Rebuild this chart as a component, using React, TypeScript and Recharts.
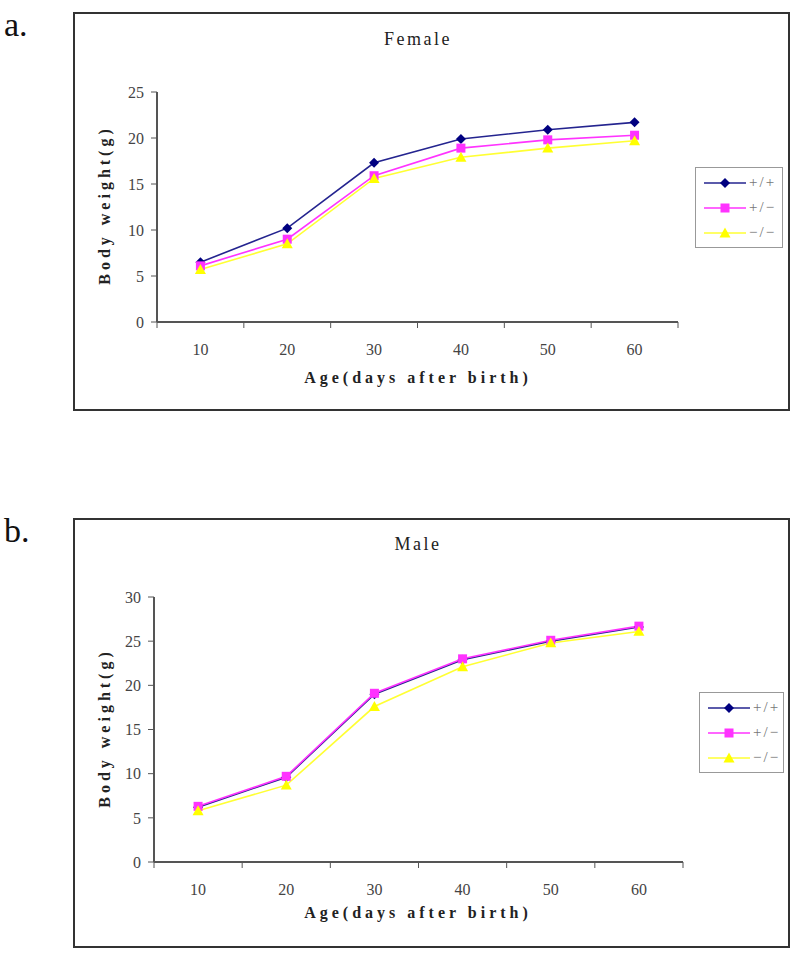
import React from "react";
import { LineChart, Line, XAxis, YAxis } from "recharts";

const ages = [10, 20, 30, 40, 50, 60];
const genotypes = ["+/+", "+/\u2212", "\u2212/\u2212"];

const femaleWT = [6.5, 10.2, 17.3, 19.9, 20.9, 21.7];
const femaleHet = [6.1, 9.0, 15.9, 18.9, 19.8, 20.3];
const femaleKO = [5.7, 8.5, 15.6, 17.9, 18.9, 19.7];

const maleWT = [6.2, 9.6, 19.0, 22.9, 25.0, 26.6];
const maleHet = [6.3, 9.7, 19.1, 23.0, 25.1, 26.7];
const maleKO = [5.8, 8.7, 17.6, 22.1, 24.8, 26.1];

const femaleTicks = [0, 5, 10, 15, 20, 25];
const maleTicks = [0, 5, 10, 15, 20, 25, 30];
const boundaryTicks = [5, 15, 25, 35, 45, 55, 65];

const lineColors = ["#24248f", "#ff33ff", "#ffff33"];
const markColors = ["#000080", "#ff33ff", "#ffff00"];

const SERIF = "'Liberation Serif', 'DejaVu Serif', serif";

function Diamond({ cx, cy, fill }: any) {
  if (cx == null || cy == null) return null;
  const r = 5;
  return <polygon points={`${cx},${cy - r} ${cx + r},${cy} ${cx},${cy + r} ${cx - r},${cy}`} fill={fill} />;
}
function Square({ cx, cy, fill }: any) {
  if (cx == null || cy == null) return null;
  const r = 4.5;
  return <rect x={cx - r} y={cy - r} width={r * 2} height={r * 2} fill={fill} />;
}
function Triangle({ cx, cy, fill }: any) {
  if (cx == null || cy == null) return null;
  const r = 5.5;
  return <polygon points={`${cx},${cy - r} ${cx + r},${cy + r * 0.8} ${cx - r},${cy + r * 0.8}`} fill={fill} />;
}
const shapes = [Diamond, Square, Triangle];

function LegendBox({ left, top, width }: any) {
  return (
    <div
      style={{
        position: "absolute",
        left,
        top,
        width,
        boxSizing: "border-box",
        border: "1.5px solid #999",
        background: "#fff",
        padding: "2px 0 2px 7px",
        fontFamily: SERIF,
        fontSize: 15,
        color: "#777",
      }}
    >
      {genotypes.map((g, i) => {
        const Shape = shapes[i];
        return (
          <div key={g} style={{ display: "flex", alignItems: "center", height: 25 }}>
            <svg width={44} height={14}>
              <line x1={1} y1={7} x2={43} y2={7} stroke={lineColors[i]} strokeWidth={1.5} />
              <Shape cx={22} cy={7} fill={markColors[i]} />
            </svg>
            <span style={{ marginLeft: 2, letterSpacing: 2 }}>{g}</span>
          </div>
        );
      })}
    </div>
  );
}

// Excel style category axis: tick marks on the boundaries, labels in the middle
function AgeTick({ x, y, payload }: any) {
  const v = payload.value;
  if (ages.includes(v)) {
    return (
      <text x={x} y={y + 33} textAnchor="middle" fill="#444" fontSize={16} fontFamily={SERIF}>
        {v}
      </text>
    );
  }
  return <line x1={x} y1={y} x2={x} y2={y + 6} stroke="#555" strokeWidth={1} />;
}

function Panel(props: any) {
  const { letter, title, wt, het, ko, yTicks, chartTop, chartHeight, plot, frame, legendAt, titleY, xLabelY } = props;
  const data = ages.map((a, i) => ({ age: a, wt: wt[i], het: het[i], ko: ko[i] }));
  const yMax = yTicks[yTicks.length - 1];
  const yAxisW = 60;
  const xAxisH = 40;
  const margin = {
    top: plot.top - chartTop,
    left: plot.left - yAxisW,
    right: 800 - plot.right,
    bottom: chartTop + chartHeight - plot.bottom - xAxisH,
  };
  const xTicks = [...boundaryTicks, ...ages].sort((a, b) => a - b);
  const keys = ["wt", "het", "ko"];
  return (
    <>
      <div style={{ position: "absolute", left: 4, top: frame.top - 6, fontFamily: SERIF, fontSize: 34, color: "#111" }}>{letter}</div>
      <div
        style={{
          position: "absolute",
          left: frame.left,
          top: frame.top,
          width: frame.right - frame.left,
          height: frame.bottom - frame.top,
          border: "2px solid #333",
          boxSizing: "border-box",
        }}
      />
      <div style={{ position: "absolute", left: 0, top: chartTop }}>
        <LineChart width={800} height={chartHeight} data={data} margin={margin}>
          <XAxis
            xAxisId="b"
            dataKey="age"
            type="number"
            domain={[5, 65]}
            ticks={xTicks}
            interval={0}
            height={xAxisH}
            tickLine={false}
            tickSize={0}
            tickMargin={0}
            tick={<AgeTick />}
            axisLine={{ stroke: "#555", strokeWidth: 2 }}
          />
          <XAxis xAxisId="top" orientation="top" type="number" domain={[5, 65]} height={0} tick={false} tickLine={false} axisLine={{ stroke: "#555", strokeWidth: 2 }} />
          <YAxis
            yAxisId="l"
            domain={[0, yMax]}
            ticks={yTicks}
            interval={0}
            width={yAxisW}
            tickSize={6}
            tickMargin={7}
            stroke="#555"
            axisLine={{ stroke: "#555", strokeWidth: 2 }}
            tick={{ fill: "#444", fontSize: 16, fontFamily: SERIF }}
          />
          <YAxis yAxisId="r" orientation="right" domain={[0, yMax]} width={0} tick={false} tickLine={false} axisLine={{ stroke: "#555", strokeWidth: 2 }} />
          {keys.map((k, i) => (
            <Line
              key={k}
              xAxisId="b"
              yAxisId="l"
              dataKey={k}
              name={genotypes[i]}
              stroke={lineColors[i]}
              strokeWidth={1.6}
              dot={(p: any) => {
                const S = shapes[i];
                return <S key={`${k}-${p.index}`} cx={p.cx} cy={p.cy} fill={markColors[i]} />;
              }}
              activeDot={false}
              isAnimationActive={false}
            />
          ))}
        </LineChart>
      </div>
      <LegendBox left={legendAt.left} top={legendAt.top} width={legendAt.width} />
      <div style={{ position: "absolute", left: 0, width: 836, top: titleY - 11, textAlign: "center", fontFamily: SERIF, fontSize: 18, letterSpacing: 2.5, color: "#222" }}>{title}</div>
      <div
        style={{
          position: "absolute",
          left: 0,
          width: 836,
          top: xLabelY - 11,
          textAlign: "center",
          fontFamily: SERIF,
          fontWeight: "bold",
          fontSize: 16,
          letterSpacing: 4,
          color: "#222",
        }}
      >
        Age(days after birth)
      </div>
      <div
        style={{
          position: "absolute",
          left: 105 - 100,
          width: 200,
          top: (plot.top + plot.bottom) / 2 - 11,
          textAlign: "center",
          transform: "rotate(-90deg)",
          fontFamily: SERIF,
          fontWeight: "bold",
          fontSize: 16,
          letterSpacing: 4,
          color: "#222",
        }}
      >
        Body weight(g)
      </div>
    </>
  );
}

export default function App() {
  return (
    <div style={{ position: "absolute", left: 0, top: 0, width: 800, height: 959, background: "#fff", overflow: "hidden" }}>
      <Panel
        letter="a."
        title="Female"
        wt={femaleWT}
        het={femaleHet}
        ko={femaleKO}
        yTicks={femaleTicks}
        chartTop={0}
        chartHeight={430}
        plot={{ left: 157, top: 92, right: 678, bottom: 322 }}
        frame={{ left: 73, top: 12, right: 790, bottom: 411 }}
        legendAt={{ left: 695, top: 167, width: 88 }}
        titleY={40}
        xLabelY={380}
      />
      <Panel
        letter="b."
        title="Male"
        wt={maleWT}
        het={maleHet}
        ko={maleKO}
        yTicks={maleTicks}
        chartTop={500}
        chartHeight={440}
        plot={{ left: 154, top: 597, right: 683, bottom: 862 }}
        frame={{ left: 73, top: 518, right: 790, bottom: 948 }}
        legendAt={{ left: 699, top: 692, width: 85 }}
        titleY={545}
        xLabelY={915}
      />
    </div>
  );
}
